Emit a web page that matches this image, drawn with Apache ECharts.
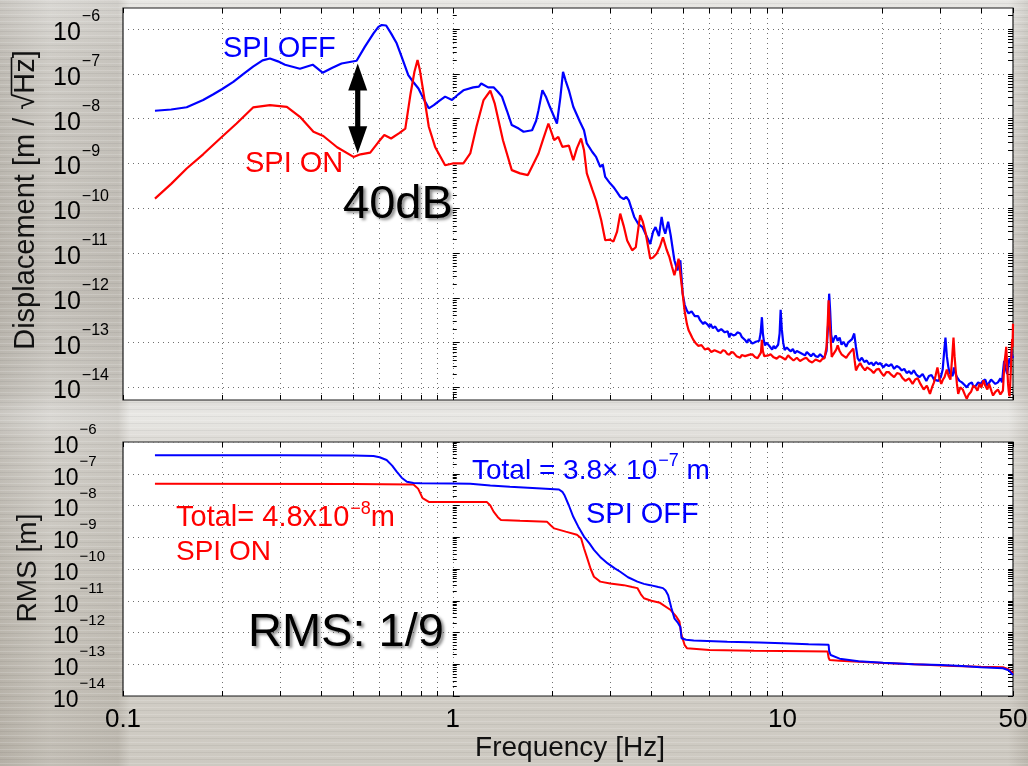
<!DOCTYPE html>
<html>
<head>
<meta charset="utf-8">
<title>SPI displacement spectrum and RMS</title>
<script src="https://cdn.jsdelivr.net/npm/echarts@6/dist/echarts.min.js"></script>
<style>
  html, body { margin: 0; padding: 0; }
  body {
    width: 1028px; height: 766px; overflow: hidden;
    background-color: #d5d3ce;
    background-image:
      repeating-linear-gradient(180deg, rgba(255,255,255,0.16) 0 1px, rgba(255,255,255,0) 1px 3px, rgba(0,0,0,0.05) 3px 4px, rgba(255,255,255,0) 4px 7px),
      linear-gradient(90deg, rgba(95,85,70,0.22) 0, rgba(95,85,70,0.10) 50px, rgba(95,85,70,0.16) 118px, rgba(95,85,70,0) 130px, rgba(95,85,70,0) 1008px, rgba(95,85,70,0.16) 1028px),
      linear-gradient(180deg, #e8e7e4 0, #dad8d3 60px, #cfccc6 300px, #d8d6d1 392px, #e9e8e5 415px, #dedcd7 440px, #d4d1ca 600px, #cdc9c1 766px);
  }
  #chart { width: 1028px; height: 766px; }
</style>
</head>
<body>
<div id="chart"></div>
<script>
// ---- frequency axis (Hz) ----
const freqRange = [0.1, 50];
const freqLabels = [0.1, 1, 10, 50];

// ---- vertical ranges ----
const asdRange = [5.25e-15, 2.95e-6];   // displacement spectrum, m/sqrt(Hz)
const rmsRange = [1e-14, 1e-6];         // cumulative RMS, m
const asdDecades = [-14, -13, -12, -11, -10, -9, -8, -7, -6];
const rmsDecades = [-14, -13, -12, -11, -10, -9, -8, -7, -6];

// ---- displacement spectrum, SPI OFF: [Hz, m/sqrt(Hz)] ----
const offAsd = [
  [0.125,1.5e-8],[0.14,1.6e-8],[0.156,1.8e-8],[0.175,2.6e-8],[0.188,3.5e-8],[0.2,4.6e-8],
  [0.216,6.6e-8],[0.232,1.0e-7],[0.248,1.45e-7],[0.265,2.0e-7],[0.279,2.2e-7],[0.295,1.9e-7],
  [0.31,1.6e-7],[0.344,1.3e-7],[0.376,1.6e-7],[0.403,1.06e-7],[0.43,1.35e-7],[0.46,1.7e-7],
  [0.511,1.96e-7],[0.541,4.0e-7],[0.575,8.0e-7],[0.595,1.12e-6],[0.609,1.23e-6],[0.628,1.2e-6],
  [0.65,8.0e-7],[0.676,4.8e-7],[0.70,2.4e-7],[0.733,9.4e-8],[0.76,6.5e-8],[0.787,4.7e-8],
  [0.815,2.8e-8],[0.846,1.7e-8],[0.876,2.0e-8],[0.91,2.5e-8],[0.948,3.1e-8],[0.995,2.6e-8],
  [1.04,3.5e-8],[1.077,4.3e-8],[1.154,5.0e-8],[1.2,5.2e-8],[1.22,6.1e-8],[1.28,5.0e-8],
  [1.33,5.0e-8],[1.37,4.0e-8],[1.41,3.1e-8],[1.46,1.5e-8],[1.51,7.2e-9],[1.585,6.0e-9],
  [1.64,5.1e-9],[1.74,5.5e-9],[1.79,9e-9],[1.82,1.55e-8],[1.87,4.3e-8],[1.92,3.0e-8],
  [1.97,1.84e-8],[2.07,7.8e-9],[2.12,3e-8],[2.16,1.11e-7],[2.2,7e-8],[2.25,4.3e-8],
  [2.32,1.84e-8],[2.43,8.5e-9],[2.5,5.5e-9],[2.55,2.8e-9],[2.65,1.8e-9],[2.72,1.4e-9],
  [2.8,8.4e-10],[2.85,9.5e-10],[2.9,5.0e-10],[3.0,3.6e-10],[3.07,3.0e-10],[3.15,2.3e-10],
  [3.22,1.8e-10],[3.3,1.6e-10],[3.36,1.8e-10],[3.42,1.5e-10],[3.55,6.4e-11],[3.65,4.5e-11],
  [3.76,3.8e-11],[3.85,2.6e-11],[3.97,1.6e-11],[4.05,3.0e-11],[4.12,3.8e-11],[4.22,2.4e-11],
  [4.3,6.4e-11],[4.36,3.5e-11],[4.41,2.7e-11],[4.5,5.0e-11],[4.58,2.5e-11],[4.7,6.9e-12],
  [4.8,4.1e-12],[4.9,6.9e-12],[4.98,1.24e-12],[5.05,7e-13],[5.13,5.2e-13],[5.19,4.5e-13],
  [5.25,4.2e-13],[5.3,5.0e-13],[5.35,4.8e-13],[5.42,3.9e-13],[5.49,3.7e-13],[5.55,3.9e-13],
  [5.62,3.2e-13],[5.68,3.4e-13],[5.75,2.6e-13],[5.81,2.9e-13],[5.87,3.0e-13],[5.94,2.5e-13],
  [6.0,2.2e-13],[6.05,2.6e-13],[6.1,2.5e-13],[6.15,2.1e-13],[6.2,1.9e-13],[6.25,2.3e-13],
  [6.3,2.2e-13],[6.38,1.8e-13],[6.45,1.7e-13],[6.52,2.0e-13],[6.6,1.9e-13],[6.68,1.7e-13],
  [6.75,1.6e-13],[6.82,1.8e-13],[6.9,1.3e-13],[6.95,1.6e-13],[7.0,1.7e-13],[7.1,1.45e-13],
  [7.2,1.5e-13],[7.3,1.7e-13],[7.44,1.6e-13],[7.52,1.35e-13],[7.6,1.25e-13],[7.7,1.15e-13],
  [7.8,1.0e-13],[7.9,1.2e-13],[8.0,1.12e-13],[8.1,9.5e-14],[8.2,9.0e-14],[8.3,1.05e-13],
  [8.4,1.0e-13],[8.5,1.1e-13],[8.58,1.6e-13],[8.66,3.7e-13],[8.72,1.6e-13],[8.78,1.1e-13],
  [8.85,8.7e-14],[8.95,1.0e-13],[9.05,9.5e-14],[9.15,8.2e-14],[9.3,7.0e-14],[9.4,8.5e-14],
  [9.5,7.4e-14],[9.6,8.0e-14],[9.7,9e-14],[9.8,1.6e-13],[9.87,5.4e-13],[9.95,2.0e-13],
  [10.05,1.0e-13],[10.15,6.8e-14],[10.3,7.8e-14],[10.45,7.0e-14],[10.6,6.4e-14],[10.75,7.2e-14],
  [10.9,5.8e-14],[11.05,6.5e-14],[11.2,6.6e-14],[11.35,5.9e-14],[11.5,6.4e-14],[11.7,5.2e-14],
  [11.85,6.2e-14],[12.0,6.0e-14],[12.2,5.0e-14],[12.4,5.7e-14],[12.6,5.0e-14],[12.8,4.8e-14],
  [13.0,5.5e-14],[13.2,4.9e-14],[13.4,4.6e-14],[13.6,6.5e-14],[13.75,2.5e-13],[13.85,1.24e-12],
  [13.95,5.0e-13],[14.05,1.5e-13],[14.2,1.0e-13],[14.35,1.25e-13],[14.5,1.45e-13],[14.7,1.1e-13],
  [14.9,1.3e-13],[15.1,9.0e-14],[15.3,1.05e-13],[15.6,8.1e-14],[15.8,1.0e-13],[16.0,1.1e-13],
  [16.25,1.2e-13],[16.5,1.6e-13],[16.7,8e-14],[16.9,4.5e-14],[17.1,3.9e-14],[17.4,4.6e-14],
  [17.7,3.7e-14],[18.0,4.0e-14],[18.3,3.3e-14],[18.6,3.6e-14],[18.9,3.1e-14],[19.2,3.7e-14],
  [19.5,3.3e-14],[19.8,3.5e-14],[20.2,2.8e-14],[20.6,3.3e-14],[21.0,3.0e-14],[21.4,3.3e-14],
  [21.8,2.6e-14],[22.2,3.0e-14],[22.6,2.8e-14],[23.0,2.4e-14],[23.4,2.6e-14],[23.8,2.1e-14],
  [24.2,2.3e-14],[24.6,2.0e-14],[25.0,2.4e-14],[25.5,1.9e-14],[26.0,1.7e-14],[26.6,2.0e-14],
  [27.3,1.4e-14],[27.8,1.8e-14],[28.3,1.9e-14],[28.8,1.5e-14],[29.2,1.6e-14],[29.7,1.4e-14],
  [30.2,1.7e-14],[30.6,2.5e-14],[30.9,6e-14],[31.2,1.3e-13],[31.5,5e-14],[31.8,3e-14],
  [32.1,2.1e-14],[32.4,2.3e-14],[32.8,1.8e-14],[33.1,2.8e-14],[33.5,2.0e-14],[33.8,1.7e-14],
  [34.4,1.4e-14],[35.0,1.3e-14],[35.6,1.15e-14],[36.2,1.0e-14],[36.8,1.2e-14],[37.5,1.3e-14],
  [38.0,1.0e-14],[38.6,1.1e-14],[39.2,1.3e-14],[39.9,1.2e-14],[40.5,1.4e-14],[41.2,1.5e-14],
  [41.8,1.1e-14],[42.3,1.2e-14],[42.9,1.5e-14],[43.5,1.45e-14],[44.2,1.2e-14],[45.0,1.3e-14],
  [45.8,1.6e-14],[46.3,1.3e-14],[46.7,2.5e-14],[47.0,3.9e-14],[47.4,2.8e-14],[48.0,2.0e-14],
  [48.4,3.0e-14],[48.8,4.5e-14],[49.2,3.5e-14],[49.5,6.8e-14],[49.8,4.5e-14],[50,5e-14]
];

// ---- displacement spectrum, SPI ON: [Hz, m/sqrt(Hz)] ----
const onAsd = [
  [0.125,1.64e-10],[0.14,3.5e-10],[0.156,7.7e-10],[0.175,1.6e-9],[0.197,3.6e-9],[0.221,7.8e-9],
  [0.248,1.78e-8],[0.279,2.0e-8],[0.314,1.84e-8],[0.344,1.1e-8],[0.378,5.1e-9],[0.405,4.1e-9],
  [0.446,2.3e-9],[0.5,1.4e-9],[0.525,1.6e-9],[0.562,1.74e-9],[0.595,3.0e-9],[0.62,4.3e-9],
  [0.65,3.6e-9],[0.69,4.8e-9],[0.718,6.0e-9],[0.745,3.65e-8],[0.765,1.1e-7],[0.782,2.03e-7],
  [0.795,1.2e-7],[0.81,5.1e-8],[0.846,6.6e-9],[0.884,2.34e-9],[0.948,9.1e-10],[1.0,1.0e-9],
  [1.077,1.0e-9],[1.13,1.67e-9],[1.18,6.6e-9],[1.24,2.6e-8],[1.30,4.2e-8],[1.34,2.2e-8],
  [1.42,3.3e-9],[1.51,7.1e-10],[1.6,6.0e-10],[1.69,5.5e-10],[1.82,1.67e-9],[1.88,3.5e-9],
  [1.95,7.8e-9],[2.03,3.3e-9],[2.09,3.9e-9],[2.15,2.34e-9],[2.25,2.5e-9],[2.32,1.18e-9],
  [2.38,2.2e-9],[2.45,3.6e-9],[2.5,2.0e-9],[2.55,6.0e-10],[2.65,2.6e-10],[2.72,1.5e-10],
  [2.82,5.4e-11],[2.9,1.93e-11],[3.0,2.0e-11],[3.07,1.8e-11],[3.15,3.0e-11],[3.22,7.6e-11],
  [3.3,4.0e-11],[3.38,1.9e-11],[3.5,1.15e-11],[3.59,1.35e-11],[3.7,7.0e-11],[3.77,5.0e-11],
  [3.85,2.7e-11],[3.97,7.5e-12],[4.05,8.0e-12],[4.15,9.6e-12],[4.25,1.4e-11],[4.34,2.25e-11],
  [4.45,1.2e-11],[4.54,8.1e-12],[4.62,5e-12],[4.7,3.2e-12],[4.84,7.5e-12],[4.98,1.24e-12],
  [5.05,5e-13],[5.13,2.6e-13],[5.19,1.9e-13],[5.25,1.6e-13],[5.32,1.3e-13],[5.38,1.12e-13],
  [5.44,1.0e-13],[5.49,9.5e-14],[5.55,8.5e-14],[5.62,8.1e-14],[5.68,8.8e-14],[5.75,8.0e-14],
  [5.82,7.0e-14],[5.9,6.5e-14],[5.95,7.5e-14],[6.0,7.2e-14],[6.08,6.2e-14],[6.15,6.0e-14],
  [6.22,6.8e-14],[6.3,7.2e-14],[6.4,6.2e-14],[6.5,5.9e-14],[6.6,6.8e-14],[6.7,6.5e-14],
  [6.8,5.6e-14],[6.9,5.4e-14],[7.0,6.2e-14],[7.1,6.0e-14],[7.25,5.0e-14],[7.44,4.6e-14],
  [7.52,5.3e-14],[7.6,5.6e-14],[7.7,5.0e-14],[7.8,4.8e-14],[7.95,5.4e-14],[8.1,5.5e-14],
  [8.25,4.8e-14],[8.4,4.5e-14],[8.5,5.2e-14],[8.6,6e-14],[8.66,1.15e-13],[8.72,6.5e-14],
  [8.8,5.0e-14],[8.9,4.8e-14],[9.05,5.2e-14],[9.2,5.5e-14],[9.4,4.7e-14],[9.6,4.4e-14],
  [9.8,5.0e-14],[10.0,4.6e-14],[10.2,4.2e-14],[10.4,5.2e-14],[10.6,4.5e-14],[10.8,4.0e-14],
  [11.05,4.6e-14],[11.3,3.9e-14],[11.55,4.3e-14],[11.8,4.6e-14],[12.05,3.9e-14],[12.3,3.6e-14],
  [12.6,4.2e-14],[13.0,3.8e-14],[13.2,4.3e-14],[13.4,4.5e-14],[13.6,8e-14],[13.72,3.0e-13],
  [13.8,8.8e-13],[13.88,3.5e-13],[13.98,1.4e-13],[14.1,4.8e-14],[14.25,5.5e-14],[14.4,6e-14],
  [14.55,7.0e-14],[14.7,8.7e-14],[14.9,6.5e-14],[15.1,5.5e-14],[15.35,5.0e-14],[15.6,4.6e-14],
  [15.8,5.3e-14],[16.0,6.0e-14],[16.2,5.5e-14],[16.4,7.4e-14],[16.55,4.0e-14],[16.7,2.4e-14],
  [16.95,3.0e-14],[17.2,3.5e-14],[17.5,2.8e-14],[17.8,2.4e-14],[18.05,2.8e-14],[18.3,3.0e-14],
  [18.6,2.4e-14],[18.9,2.1e-14],[19.25,2.5e-14],[19.6,2.6e-14],[19.95,2.1e-14],[20.3,1.8e-14],
  [20.65,2.2e-14],[21.0,2.2e-14],[21.4,1.9e-14],[21.8,1.7e-14],[22.25,2.1e-14],[22.7,2.0e-14],
  [23.15,1.6e-14],[23.6,1.4e-14],[24.2,1.6e-14],[24.8,1.2e-14],[25.25,1.5e-14],[25.7,1.6e-14],
  [26.2,1.2e-14],[26.8,9e-15],[27.4,1.1e-14],[28.0,7.2e-15],[28.4,1.0e-14],[28.8,1.3e-14],
  [29.1,1.8e-14],[29.5,2.8e-14],[29.9,1.6e-14],[30.3,1.2e-14],[30.65,1.5e-14],[31.0,1.7e-14],
  [31.5,2.5e-14],[31.9,1.8e-14],[32.3,1.5e-14],[32.65,4e-14],[33.0,1.3e-13],[33.25,5e-14],
  [33.5,2.5e-14],[33.8,1.2e-14],[34.1,7.2e-15],[34.6,1.0e-14],[35.2,9e-15],[35.7,7e-15],
  [36.2,5.6e-15],[36.7,7e-15],[37.3,8e-15],[37.9,1.1e-14],[38.5,1.0e-14],[39.0,8.5e-15],
  [39.6,1.2e-14],[40.1,1.0e-14],[40.7,1.45e-14],[41.2,1.1e-14],[41.8,9e-15],[42.3,1.2e-14],
  [42.7,1.1e-14],[43.1,8e-15],[43.5,6.6e-15],[44.2,8e-15],[45.0,9e-15],[45.8,7e-15],
  [46.6,8.5e-15],[46.9,2e-14],[47.2,4e-14],[47.5,6e-14],[47.7,8.1e-14],[48.0,3e-14],
  [48.3,1.2e-14],[48.55,8e-15],[48.8,6.3e-15],[49.05,1.2e-14],[49.3,3e-14],[49.5,6e-14],
  [49.7,1.2e-13],[49.85,8e-14],[50,2.65e-13]
];

// ---- cumulative RMS from high to low frequency: [Hz, m] ----
const offRms = [
  [0.125,3.8e-7],[0.3,3.8e-7],[0.5,3.78e-7],[0.575,3.6e-7],[0.6,3.3e-7],[0.63,2.7e-7],
  [0.655,1.8e-7],[0.676,1.16e-7],[0.7,7.5e-8],[0.726,5.6e-8],[0.76,5.1e-8],[0.8,5.0e-8],
  [1.0,4.95e-8],[1.13,4.8e-8],[1.3,4.3e-8],[1.49,3.9e-8],[1.8,3.5e-8],[2.1,3.2e-8],
  [2.15,2.7e-8],[2.18,2.15e-8],[2.25,1.0e-8],[2.32,4.4e-9],[2.4,2.2e-9],[2.5,1.05e-9],
  [2.6,6.3e-10],[2.68,4.0e-10],[2.8,2.4e-10],[2.95,1.5e-10],[3.1,1.05e-10],[3.22,8.2e-11],
  [3.4,5.5e-11],[3.63,4.0e-11],[3.8,3.4e-11],[3.97,3.1e-11],[4.2,2.7e-11],[4.34,2.5e-11],
  [4.42,2.1e-11],[4.5,1.5e-11],[4.6,6e-12],[4.7,2.8e-12],[4.82,2.0e-12],[4.9,1.5e-12],
  [4.94,6.6e-13],[5.1,5.9e-13],[5.38,5.6e-13],[6.8,5.1e-13],[8.5,4.85e-13],[10,4.6e-13],
  [12,4.3e-13],[13.8,4.1e-13],[13.85,2.6e-13],[14.0,1.95e-13],[14.9,1.5e-13],[17,1.25e-13],
  [20.2,1.12e-13],[25,1.0e-13],[30.2,9.5e-14],[35,8.8e-14],[39.9,8.1e-14],[46.6,7.5e-14],
  [48.5,6.5e-14],[50,4.6e-14]
];
const onRms = [
  [0.125,4.8e-8],[0.5,4.75e-8],[0.76,4.6e-8],[0.785,3.4e-8],[0.81,1.7e-8],[0.846,1.3e-8],
  [1.0,1.3e-8],[1.27,1.28e-8],[1.30,1.0e-8],[1.33,6.4e-9],[1.37,4.3e-9],[1.40,3.5e-9],
  [1.6,3.3e-9],[1.93,3.1e-9],[1.98,2.4e-9],[2.03,1.9e-9],[2.2,1.5e-9],[2.38,1.2e-9],
  [2.45,9.3e-10],[2.5,4.5e-10],[2.55,2.4e-10],[2.62,1.0e-10],[2.68,5.7e-11],[2.8,4.0e-11],
  [3.0,3.5e-11],[3.3,3.1e-11],[3.5,2.7e-11],[3.63,2.5e-11],[3.72,1.6e-11],[3.8,1.2e-11],
  [4.0,1.0e-11],[4.25,8.6e-12],[4.58,5.1e-12],[4.75,3.3e-12],[4.87,2.2e-12],[4.94,8.3e-13],
  [5.05,4.0e-13],[5.13,3.2e-13],[6.0,2.8e-13],[8.2,2.65e-13],[10,2.6e-13],[13.7,2.5e-13],
  [13.8,1.6e-13],[13.9,1.35e-13],[14.9,1.28e-13],[20.2,1.1e-13],[25,1.0e-13],[33,8.8e-14],
  [40,8.3e-14],[46.6,8.0e-14],[48.5,7.0e-14],[50,5.1e-14]
];

// 40 dB marker: [Hz, upper value, lower value]
const suppressionArrow = [[0.515, 1.7e-7, 1.7e-9]];

// ---- helpers ----
const lg = Math.log10;
const FONT = '"Liberation Sans", Arial, Helvetica, sans-serif';
const INK = '#111';
const BLUE = '#0000ff';
const RED = '#ff0000';
const toLog = pts => pts.map(([f, v]) => [lg(f), lg(v)]);

// log10 positions of k x 10^n (k from kStart to 9) inside [lo, hi]
function logSteps(lo, hi, kStart) {
  const out = [];
  for (let e = Math.floor(lo) - 1; e <= Math.ceil(hi); e++) {
    for (let k = kStart; k <= 9; k++) {
      const v = e + lg(k);
      if (v >= lo - 1e-9 && v <= hi + 1e-9) out.push(v);
    }
  }
  return out;
}

const gridDots = { color: '#707070', width: 1, type: [1, 4] };
const tickStyle = { color: '#000', width: 1 };

function xAxesFor(gridIndex, withLabels) {
  const lo = lg(freqRange[0]), hi = lg(freqRange[1]);
  const all = logSteps(lo, hi, 1);
  const base = {
    type: 'value', gridIndex, min: lo, max: hi,
    axisLine: { show: false },
    axisTick: { show: true, inside: true, length: 5, customValues: all, lineStyle: tickStyle },
    axisLabel: { show: false },
    splitLine: { show: false }
  };
  return [
    Object.assign({}, base, {
      position: 'bottom',
      splitLine: { show: true, lineStyle: gridDots },
      axisLabel: withLabels ? {
        show: true, customValues: freqLabels.map(lg), margin: 11, interval: 0,
        fontSize: 26, fontFamily: FONT, color: '#000', hideOverlap: false,
        showMinLabel: true, showMaxLabel: true,
        formatter: v => { const f = Math.pow(10, v); return f < 1 ? f.toFixed(1) : String(Math.round(f)); }
      } : { show: false }
    }),
    Object.assign({}, base, { position: 'top' })
  ];
}

// decade labels "10^-n"; alternate decades go on two stacked axes so none collide
function decadeLabel(values, rich) {
  return {
    show: true, customValues: values, align: 'left', margin: 70, interval: 0, hideOverlap: false,
    showMinLabel: true, showMaxLabel: true,
    formatter: v => '{b|10}{s|\u2212' + Math.abs(Math.round(v)) + '}',
    rich
  };
}

function yAxesFor(gridIndex, range, decades, big) {
  const lo = lg(range[0]), hi = lg(range[1]);
  const minors = logSteps(lo, hi, 2);
  const base = { type: 'value', gridIndex, min: lo, max: hi, axisLine: { show: false } };
  const rich = big ? {
    b: { fontSize: 25, lineHeight: 12, fontFamily: FONT, color: '#000', padding: [11, 0, 3, 0] },
    s: { fontSize: 16, lineHeight: 2, fontFamily: FONT, color: '#000', padding: [0, 0, 24, 1] }
  } : {
    b: { fontSize: 23, lineHeight: 10, fontFamily: FONT, color: '#000', padding: [12, 0, 3, 0] },
    s: { fontSize: 15, lineHeight: 1, fontFamily: FONT, color: '#000', padding: [0, 0, 24, 1] }
  };
  const even = decades.filter(d => d % 2 === 0);
  const odd = decades.filter(d => d % 2 !== 0);
  return [
    Object.assign({}, base, {
      position: 'left',
      axisTick: { show: true, inside: true, length: 7, customValues: decades, lineStyle: tickStyle },
      splitLine: { show: true, lineStyle: gridDots },
      axisLabel: decadeLabel(even, rich)
    }),
    Object.assign({}, base, {
      position: 'left',
      axisTick: { show: true, inside: true, length: 4, customValues: minors, lineStyle: tickStyle },
      splitLine: { show: false },
      axisLabel: decadeLabel(odd, rich)
    }),
    Object.assign({}, base, {
      position: 'right',
      axisTick: { show: true, inside: true, length: 5, customValues: decades.concat(minors), lineStyle: tickStyle },
      splitLine: { show: false }, axisLabel: { show: false }
    })
  ];
}

// text width for laying out rotated titles
const measureCtx = document.createElement('canvas').getContext('2d');
function textWidth(str, size) {
  measureCtx.font = size + 'px ' + FONT;
  return measureCtx.measureText(str).width;
}

function sideTitle(cx, cy, size, parts) {
  let total = 0;
  parts.forEach(p => { p.w = textWidth(p.text, size); total += p.w; });
  let x = -total / 2;
  const children = [];
  parts.forEach(p => {
    children.push({
      type: 'text', x, y: 0,
      style: { text: p.text, fontSize: size, fontFamily: FONT, fill: INK,
               align: 'left', textAlign: 'left', verticalAlign: 'middle', textVerticalAlign: 'middle' }
    });
    if (p.bar) {
      children.push({
        type: 'line',
        shape: { x1: x - 1, y1: -size * 0.5, x2: x + p.w + 1, y2: -size * 0.5 },
        style: { stroke: INK, lineWidth: 1.6 }
      });
    }
    x += p.w;
  });
  return { type: 'group', x: cx, y: cy, rotation: Math.PI / 2, children };
}

function label(x, y, text, size, color, shadow) {
  const style = { text, fontSize: size, fontFamily: FONT, fill: color,
                  align: 'left', textAlign: 'left', verticalAlign: 'middle', textVerticalAlign: 'middle' };
  if (shadow) {
    Object.assign(style, {
      textShadowColor: 'rgba(0,0,0,0.45)', textShadowBlur: 3, textShadowOffsetX: 2.5, textShadowOffsetY: 2.5
    });
  }
  return { type: 'text', x, y, z: 100, style };
}

function supLabel(x, y, text, size, supSize, color, padTop, padBottom) {
  return {
    type: 'text', x, y, z: 100,
    style: {
      text, align: 'left', textAlign: 'left', verticalAlign: 'middle', textVerticalAlign: 'middle',
      rich: {
        a: { fontSize: size, lineHeight: size, fontFamily: FONT, fill: color, padding: [padTop, 0, 0, 0] },
        s: { fontSize: supSize, lineHeight: supSize, fontFamily: FONT, fill: color, padding: [0, 0, padBottom, 1] }
      }
    }
  };
}

const lineSeries = (xi, yi, pts, color, z, width) => ({
  type: 'line', xAxisIndex: xi, yAxisIndex: yi, data: toLog(pts),
  showSymbol: false, symbol: 'none', clip: true, z,
  lineStyle: { color, width }, itemStyle: { color },
  emphasis: { disabled: true }, silent: true
});

const chart = echarts.init(document.getElementById('chart'), null, { renderer: 'canvas' });

chart.setOption({
  backgroundColor: 'transparent',
  animation: false,
  grid: [
    { left: 123, top: 8, width: 890, height: 392, show: true, backgroundColor: '#fff',
      borderColor: '#1a1a1a', borderWidth: 1.2, containLabel: false, outerBoundsMode: 'none' },
    { left: 123, top: 442, width: 890, height: 254, show: true, backgroundColor: '#fff',
      borderColor: '#1a1a1a', borderWidth: 1.2, containLabel: false, outerBoundsMode: 'none' }
  ],
  xAxis: xAxesFor(0, false).concat(xAxesFor(1, true)),
  yAxis: yAxesFor(0, asdRange, asdDecades, true).concat(yAxesFor(1, rmsRange, rmsDecades, false)),
  series: [
    lineSeries(0, 0, offAsd, BLUE, 3, 2.2),
    lineSeries(0, 0, onAsd, RED, 4, 2.2),
    {
      type: 'custom', xAxisIndex: 0, yAxisIndex: 0, z: 6, silent: true,
      data: suppressionArrow.map(([f, hi, lo]) => [lg(f), lg(hi), lg(lo)]),
      renderItem(params, api) {
        const top = api.coord([api.value(0), api.value(1)]);
        const bot = api.coord([api.value(0), api.value(2)]);
        const hw = 9.5, hl = 27, sw = 2.6;
        return {
          type: 'group',
          children: [
            { type: 'rect', shape: { x: top[0] - sw, y: top[1] + hl - 1, width: 2 * sw, height: bot[1] - top[1] - 2 * hl + 2 },
              style: { fill: '#000' } },
            { type: 'polygon', shape: { points: [[top[0], top[1]], [top[0] - hw, top[1] + hl], [top[0] + hw, top[1] + hl]] },
              style: { fill: '#000' } },
            { type: 'polygon', shape: { points: [[bot[0], bot[1]], [bot[0] - hw, bot[1] - hl], [bot[0] + hw, bot[1] - hl]] },
              style: { fill: '#000' } }
          ]
        };
      }
    },
    lineSeries(2, 3, onRms, RED, 3, 2),
    lineSeries(2, 3, offRms, BLUE, 4, 2)
  ],
  graphic: [
    sideTitle(26, 200, 29, [{ text: 'Displacement [m / ' }, { text: '\u221A' }, { text: 'Hz', bar: true }, { text: ']' }]),
    sideTitle(28, 568, 28, [{ text: 'RMS [m]' }]),
    { type: 'text', x: 570, y: 748, style: { text: 'Frequency [Hz]', fontSize: 28, fontFamily: FONT, fill: INK,
        align: 'center', textAlign: 'center', verticalAlign: 'middle', textVerticalAlign: 'middle' } },
    label(223, 48.5, 'SPI OFF', 29, BLUE),
    label(245, 163.5, 'SPI ON', 29, RED),
    label(343, 205, '40dB', 47, '#000', true),
    supLabel(472, 468.5, '{a|Total = 3.8\u00D7 10}{s|\u22127}{a| m}', 28, 18, BLUE, 5, 15),
    label(586, 515, 'SPI OFF', 29, BLUE),
    supLabel(176, 516.5, '{a|Total= 4.8x10}{s|\u22128}{a|m}', 29, 18, RED, 3, 14),
    label(176, 552.5, 'SPI ON', 28, RED),
    label(248, 633, 'RMS: 1/9', 47, '#000', true)
  ]
});
</script>
</body>
</html>
